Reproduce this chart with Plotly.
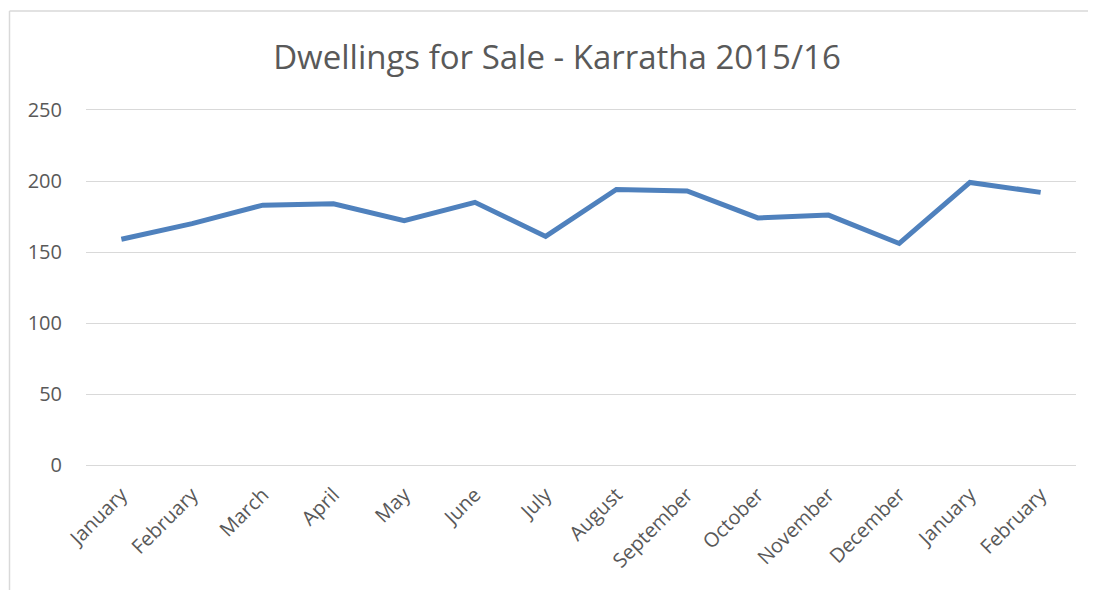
import plotly.graph_objects as go

months = ["January", "February", "March", "April", "May", "June", "July",
          "August", "September", "October", "November", "December",
          "January", "February"]
dwellings = [159, 170, 183, 184, 172, 185, 161, 194, 193, 174, 176, 156, 199, 192]
y_ticks = [0, 50, 100, 150, 200, 250]

# page has an 8px body margin; figure is placed at (8, 8)
OFF = 8
W, H = 1096 - OFF, 590 - OFF
# plot area in page pixels: x 86..1076, y 110..465
L, T = 86 - OFF, 110 - OFF
R = W - (1076 - OFF)
B = H - (465 - OFF)
pw, ph = W - L - R, H - T - B

def px_x(p):
    return (p - OFF - L) / pw

def px_y(p):
    return (H - B - (p - OFF)) / ph

x_idx = list(range(len(months)))

fig = go.Figure()
fig.add_trace(go.Scatter(
    x=x_idx, y=dwellings, mode="lines",
    line=dict(color="#4f81bd", width=5),
    hoverinfo="x+y", showlegend=False,
))

font_color = "#595959"
grid_color = "#d9d9d9"
frame = dict(color=grid_color, width=1.5)
fig.update_layout(
    width=W, height=H,
    margin=dict(l=L, r=R, t=T, b=B),
    paper_bgcolor="white", plot_bgcolor="white",
    font=dict(family="Open Sans, sans-serif", color=font_color, size=20),
    title=dict(text="Dwellings for Sale - Karratha 2015/16",
               x=(557 - OFF) / W, xanchor="center", y=1 - (57 - OFF) / H, yanchor="middle",
               font=dict(size=33, color=font_color)),
    xaxis=dict(tickmode="array", tickvals=x_idx, ticktext=months,
               range=[-0.5, len(months) - 0.5], tickangle=-45,
               showgrid=False, zeroline=False,
               showline=True, mirror=True, linecolor=grid_color, linewidth=1.3,
               ticks="", ticklabelstandoff=9,
               tickfont=dict(size=20, color=font_color)),
    yaxis=dict(range=[0, 250], tickmode="array", tickvals=y_ticks,
               showgrid=True, gridcolor=grid_color, gridwidth=1.3,
               zeroline=False, showline=False, ticks="",
               ticklabelstandoff=23,
               tickfont=dict(size=20, color=font_color)),
    shapes=[
        dict(type="line", xref="paper", yref="paper",
             x0=px_x(9.5), x1=px_x(1100), y0=px_y(11), y1=px_y(11),
             line=frame, layer="below"),
        dict(type="line", xref="paper", yref="paper",
             x0=px_x(9.5), x1=px_x(9.5), y0=px_y(11), y1=px_y(595),
             line=frame, layer="below"),
    ],
)

fig.write_html("out.html")
